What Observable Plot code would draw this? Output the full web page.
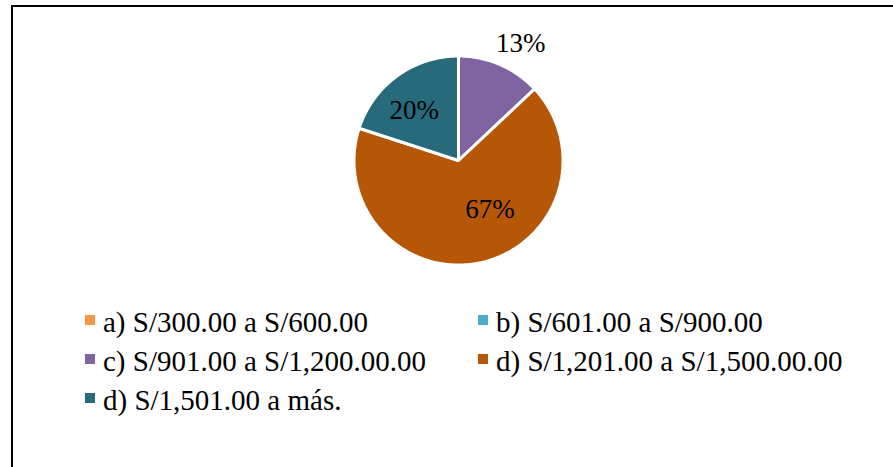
<!DOCTYPE html>
<html>
<head>
<meta charset="utf-8">
<script src="https://cdn.jsdelivr.net/npm/d3@7"></script>
<script src="https://cdn.jsdelivr.net/npm/@observablehq/plot@0.6"></script>
<style>
  html, body { margin: 0; padding: 0; background: #fff; }
  body { width: 893px; height: 467px; overflow: hidden; position: relative; font-family: "Liberation Serif", "Times New Roman", Times, Tinos, "DejaVu Serif", "Noto Serif", serif; }
  #frame { position: absolute; left: 11px; top: 5px; width: 1000px; height: 1000px; border: 2px solid #000; box-sizing: border-box; }
  #chart { position: absolute; left: 0; top: 0; }
  #legend { position: absolute; left: 85px; top: 303px; display: grid; grid-template-columns: 393px auto; grid-auto-rows: 39px; }
  .item { display: flex; align-items: flex-start; line-height: 39px; font-size: 29px; color: #000; white-space: nowrap; }
  .sw { width: 10px; height: 10px; margin-top: 12px; margin-right: 8px; flex: none; }
</style>
</head>
<body>
<div id="frame"></div>
<div id="chart"></div>
<div id="legend"></div>
<script>
// ---- data ----
const categories = [
  "a) S/300.00 a S/600.00",
  "b) S/601.00 a S/900.00",
  "c) S/901.00 a S/1,200.00.00",
  "d) S/1,201.00 a S/1,500.00.00",
  "d) S/1,501.00 a más."
];
const percents = [0, 0, 13, 67, 20];
const colors = ["#F79646", "#4BACC6", "#8064A2", "#B65708", "#276A7C"];

const SERIF = '"Liberation Serif", "Times New Roman", Times, Tinos, "DejaVu Serif", "Noto Serif", serif';

// ---- layout ----
const W = 893, H = 290;
const cx = 458, cy = 160, R = 104.5; // pixel centre/radius of the pie
const x0 = -cx / R, x1 = (W - cx) / R;
const y1 = cy / R, y0 = -(H - cy) / R;

const rows = categories.map((c, i) => ({cat: c, value: percents[i]}));
const arcs = d3.pie().sort(null).value(d => d.value)(rows);

// polygon points for each slice (unit radius, y up)
const pts = [];
for (const a of arcs) {
  if (a.endAngle - a.startAngle <= 0) continue;
  pts.push({cat: a.data.cat, x: 0, y: 0});
  const n = Math.max(2, Math.ceil((a.endAngle - a.startAngle) / 0.01));
  for (let k = 0; k <= n; ++k) {
    const t = a.startAngle + (a.endAngle - a.startAngle) * k / n;
    pts.push({cat: a.data.cat, x: Math.sin(t), y: Math.cos(t)});
  }
}

// label positions
const nudge = {2: [0.10, -0.03], 3: [0.17, 0.12], 4: [-0.07, -0.01]};
const labels = arcs.filter(a => a.data.value > 0).map(a => {
  const i = categories.indexOf(a.data.cat);
  const m = (a.startAngle + a.endAngle) / 2;
  const r = a.data.value < 15 ? 1.25 : 0.6;
  const [nx, ny] = nudge[i] || [0, 0];
  return {x: r * Math.sin(m) + nx, y: r * Math.cos(m) + ny, text: a.data.value + "%"};
});

const plot = Plot.plot({
  width: W, height: H,
  margin: 0,
  style: {fontFamily: SERIF, background: "transparent"},
  x: {domain: [x0, x1], axis: null},
  y: {domain: [y0, y1], axis: null},
  color: {domain: categories, range: colors},
  marks: [
    Plot.line(pts, {x: "x", y: "y", z: "cat", fill: "cat", stroke: "white", strokeWidth: 3, strokeLinejoin: "miter", curve: "linear-closed"}),
    Plot.text(labels, {x: "x", y: "y", text: "text", fontSize: 27, fontFamily: SERIF, fill: "black"})
  ]
});
document.getElementById("chart").appendChild(plot);

// legend using the plot's colour scale
const color = plot.scale("color");
const leg = d3.select("#legend");
categories.forEach((c) => {
  const it = leg.append("div").attr("class", "item");
  it.append("div").attr("class", "sw").style("background", color.apply(c));
  it.append("span").text(c);
});
</script>
</body>
</html>
